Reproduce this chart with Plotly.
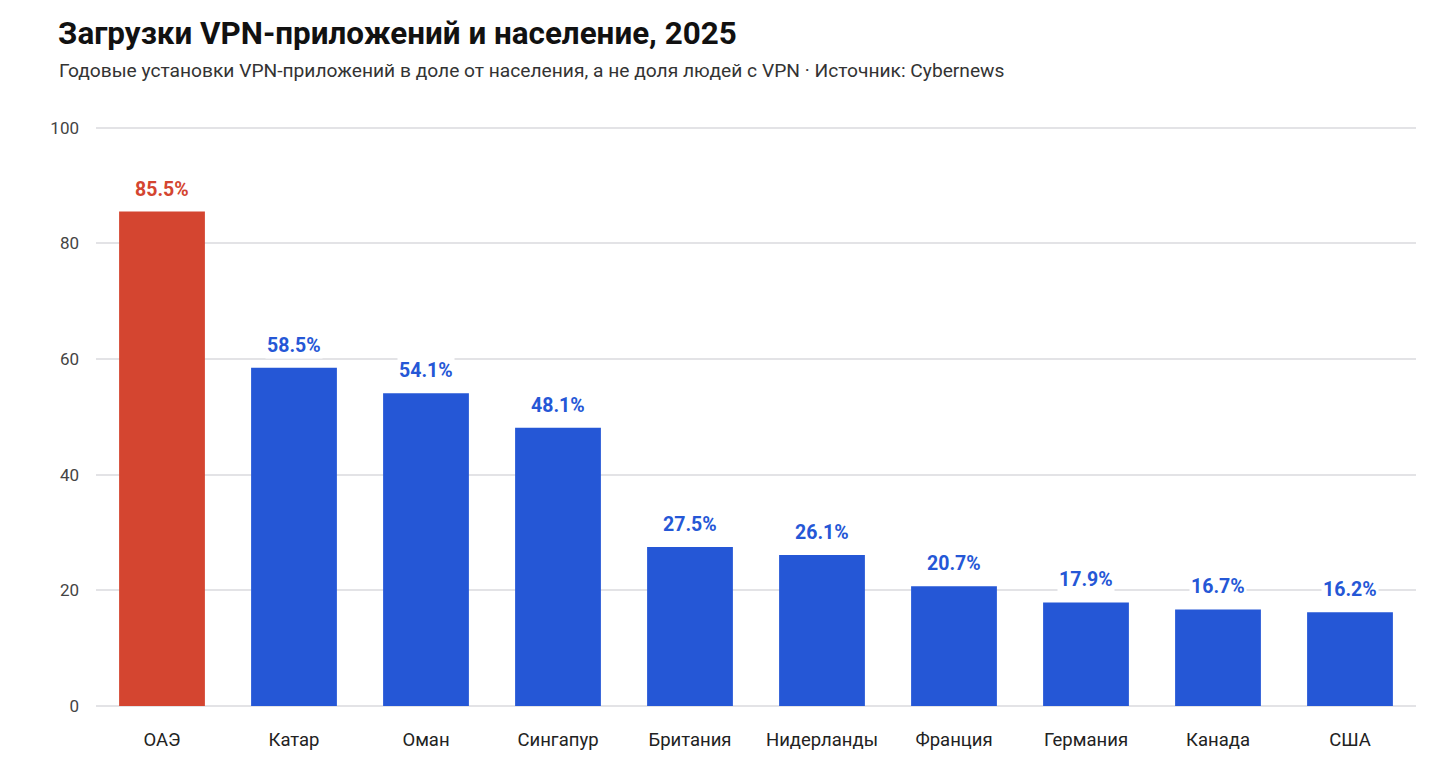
import plotly.graph_objects as go

# данные из диаграммы (Cybernews, 2025)
countries = ['ОАЭ', 'Катар', 'Оман', 'Сингапур', 'Британия',
             'Нидерланды', 'Франция', 'Германия', 'Канада', 'США']
vpn_share = [85.5, 58.5, 54.1, 48.1, 27.5, 26.1, 20.7, 17.9, 16.7, 16.2]
y_ticks = [0, 20, 40, 60, 80, 100]

title = 'Загрузки VPN-приложений и население, 2025'
subtitle = 'Годовые установки VPN-приложений в доле от населения, а не доля людей с VPN · Источник: Cybernews'

RED = '#D44530'
BLUE = '#2557D6'
GRID = '#E3E3E6'
# первый столбец выделен красным
bar_colors = [RED if i == 0 else BLUE for i in range(len(countries))]

# страница в браузере имеет отступ 8px, поэтому фигура чуть меньше окна
W, H = 1432, 772

fig = go.Figure()
fig.add_trace(go.Bar(x=countries,
                     y=vpn_share,
                     width=0.65,
                     marker_color=bar_colors,
                     marker_line_width=0,
                     hovertemplate='%{x}: %{y}%<extra></extra>',
                     showlegend=False))

# подписи значений над столбцами
for c, v, col in zip(countries, vpn_share, bar_colors):
    fig.add_annotation(x=c, y=v, text='<b>{:.1f}%</b>'.format(v),
                       showarrow=False, yanchor='bottom', yshift=9,
                       font=dict(size=19.5, color=col, family='Roboto'),
                       bgcolor='white')

fig.update_layout(title=dict(text='<b>' + title + '</b>',
                             font=dict(size=31.4, color='#111', family='Roboto'),
                             x=50 / W, xanchor='left', xref='container',
                             y=1 - 25 / H, yanchor='middle', yref='container'),
                  width=W,
                  height=H,
                  margin=dict(l=88, r=24, t=118, b=74),
                  plot_bgcolor='white',
                  paper_bgcolor='white',
                  bargap=0.35,
                  font=dict(family='Roboto', color='#333'))
fig.add_annotation(text=subtitle, xref='paper', yref='paper',
                   x=(49 - 88) / 1320, y=1 + (118 - 63) / 580,
                   xanchor='left', yanchor='middle', showarrow=False,
                   font=dict(size=19.2, color='#333', family='Roboto'))
fig.update_yaxes(range=[0, 100.3], tickvals=y_ticks, showgrid=True,
                 gridcolor=GRID, gridwidth=2, zeroline=True,
                 zerolinecolor=GRID, zerolinewidth=2,
                 showline=False, ticks='', ticklabelstandoff=16,
                 tickfont=dict(size=17, color='#444'))
fig.update_xaxes(showline=False, ticks='', ticklabelstandoff=20,
                 tickfont=dict(size=18.5, color='#222'))
fig.write_html('out.html')
